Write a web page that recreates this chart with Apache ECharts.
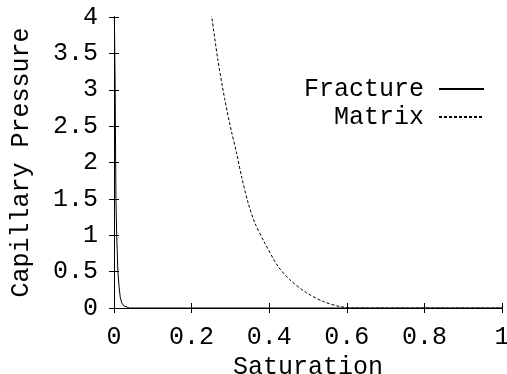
<!DOCTYPE html>
<html>
<head>
<meta charset="utf-8">
<script src="https://cdn.jsdelivr.net/npm/echarts@6/dist/echarts.min.js"></script>
<style>
  html, body { margin: 0; padding: 0; background: #fff; }
  #chart { width: 507px; height: 374px; }
</style>
</head>
<body>
<div id="chart"></div>
<script>
// values
const seriesNames = ['Fracture', 'Matrix'];
const fractureSat = [0.0005, 0.001, 0.002, 0.003, 0.004, 0.005, 0.007, 0.010, 0.013, 0.016, 0.020, 0.025, 0.030, 0.040, 1.0];
const fracturePc  = [5.0,    4.0,   3.5,   3.0,   2.2,   1.5,   1.0,   0.5,   0.3,   0.15,  0.07,  0.03,  0.01,  0.0,   0.0];
const matrixSat = [0.245, 0.252, 0.268, 0.285, 0.303, 0.316, 0.329, 0.346, 0.363, 0.389, 0.423, 0.453, 0.496, 0.539, 0.582, 0.620, 1.0];
const matrixPc  = [4.25,  4.00,  3.40,  2.88,  2.42,  2.13,  1.80,  1.44,  1.17,  0.89,  0.57,  0.39,  0.21,  0.09,  0.02,  0.0,   0.0];

const font = 'Liberation Mono';
const fontSize = 25;
const pairs = (xs, ys) => xs.map((x, i) => [x, ys[i]]);

let chart;
const initChart = () => {
    chart = echarts.init(document.getElementById('chart'));
    const axisBase = {
        type: 'value',
        axisLine: { show: true, lineStyle: { color: '#000', width: 1 } },
        axisTick: { show: true, inside: true, length: 5, lineStyle: { color: '#000' } },
        splitLine: { show: false }
    };
    const textStyle = { fontFamily: font, fontSize: fontSize, color: '#000' };
    chart.setOption({
        animation: false,
        backgroundColor: '#fff',
        grid: { left: 114, right: 5, top: 17, bottom: 66, outerBoundsMode: 'none', containLabel: false },
        legend: {
            orient: 'vertical',
            right: 22,
            top: 75,
            align: 'right',
            padding: 0,
            itemWidth: 45,
            itemHeight: 14,
            itemGap: 0,
            itemStyle: { opacity: 0 },
            textStyle: Object.assign({ lineHeight: 28, padding: [0, 10, 0, 0] }, textStyle),
            data: seriesNames
        },
        xAxis: [
            Object.assign({}, axisBase, {
                min: 0, max: 1, interval: 0.2,
                name: 'Saturation',
                nameLocation: 'middle',
                nameGap: 47,
                nameTextStyle: textStyle,
                axisLabel: Object.assign({ margin: 17 }, textStyle)
            }),
            Object.assign({}, axisBase, {
                position: 'top', min: 0, max: 1, interval: 0.2,
                axisLabel: { show: false }
            })
        ],
        yAxis: [
            Object.assign({}, axisBase, {
                min: 0, max: 4, interval: 0.5,
                name: 'Capillary Pressure',
                nameLocation: 'middle',
                nameRotate: 90,
                nameGap: 80,
                nameTextStyle: textStyle,
                axisLabel: Object.assign({ margin: 16 }, textStyle)
            }),
            Object.assign({}, axisBase, {
                position: 'right', min: 0, max: 4, interval: 0.5,
                axisLabel: { show: false }
            })
        ],
        series: [{
            name: seriesNames[0],
            type: 'line',
            symbol: 'none',
            clip: true,
            color: '#000',
            lineStyle: { color: '#000', width: 1 },
            data: pairs(fractureSat, fracturePc)
        }, {
            name: seriesNames[1],
            type: 'line',
            symbol: 'none',
            clip: true,
            smooth: 0.3,
            color: '#000',
            lineStyle: { color: '#000', width: 1, type: [3, 2] },
            data: pairs(matrixSat, matrixPc)
        }]
    });
};
initChart();
</script>
</body>
</html>
